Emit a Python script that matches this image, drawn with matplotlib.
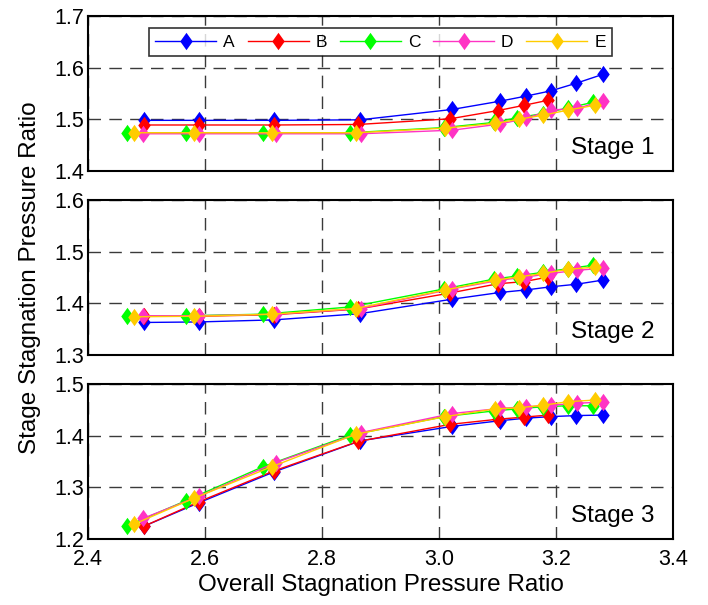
import matplotlib
matplotlib.use("Agg")
import matplotlib.pyplot as plt
from matplotlib.ticker import FixedLocator, FormatStrFormatter

plt.rcParams['font.family'] = ['Liberation Sans', 'DejaVu Sans']

# Series labels and colours
series = ["A", "B", "C", "D", "E"]
colors = ["#0000ff", "#ff0000", "#00ff00", "#ff33c4", "#ffcc00"]

# Overall stagnation pressure ratio for each series
x_A = [2.496, 2.589, 2.718, 2.865, 3.022, 3.104, 3.149, 3.191, 3.235, 3.280]
x_B = [2.496, 2.589, 2.718, 2.862, 3.019, 3.101, 3.145, 3.187]
x_C = [2.466, 2.567, 2.699, 2.848, 3.009, 3.094, 3.134, 3.177, 3.220, 3.264]
x_D = [2.494, 2.590, 2.721, 2.866, 3.023, 3.105, 3.149, 3.192, 3.236, 3.281]
x_E = [2.479, 2.581, 2.714, 2.858, 3.011, 3.096, 3.136, 3.178, 3.221, 3.266]

# Stage 1 stagnation pressure ratio
s1_A = [1.498, 1.498, 1.498, 1.499, 1.519, 1.535, 1.545, 1.555, 1.570, 1.587]
s1_B = [1.489, 1.489, 1.489, 1.490, 1.501, 1.517, 1.527, 1.537]
s1_C = [1.474, 1.474, 1.474, 1.474, 1.484, 1.494, 1.503, 1.511, 1.522, 1.533]
s1_D = [1.472, 1.472, 1.472, 1.472, 1.479, 1.491, 1.502, 1.518, 1.521, 1.536]
s1_E = [1.474, 1.474, 1.474, 1.474, 1.483, 1.492, 1.500, 1.508, 1.518, 1.527]

# Stage 2 stagnation pressure ratio
s2_A = [1.363, 1.364, 1.368, 1.380, 1.408, 1.421, 1.426, 1.432, 1.437, 1.445]
s2_B = [1.375, 1.375, 1.378, 1.389, 1.420, 1.438, 1.442, 1.451]
s2_C = [1.375, 1.376, 1.379, 1.393, 1.428, 1.447, 1.453, 1.460, 1.467, 1.474]
s2_D = [1.376, 1.376, 1.379, 1.390, 1.428, 1.445, 1.451, 1.458, 1.464, 1.468]
s2_E = [1.374, 1.375, 1.379, 1.390, 1.426, 1.445, 1.451, 1.458, 1.466, 1.470]

# Stage 3 stagnation pressure ratio
s3_A = [1.225, 1.270, 1.330, 1.390, 1.418, 1.429, 1.434, 1.437, 1.439, 1.440]
s3_B = [1.225, 1.272, 1.332, 1.389, 1.422, 1.432, 1.436, 1.440]
s3_C = [1.225, 1.274, 1.340, 1.401, 1.437, 1.448, 1.452, 1.456, 1.458, 1.458]
s3_D = [1.240, 1.283, 1.348, 1.406, 1.443, 1.453, 1.456, 1.459, 1.463, 1.465]
s3_E = [1.229, 1.279, 1.340, 1.403, 1.437, 1.452, 1.454, 1.459, 1.466, 1.469]

x_data = [x_A, x_B, x_C, x_D, x_E]
stages = [
    ("Stage 1", [s1_A, s1_B, s1_C, s1_D, s1_E], [1.4, 1.5, 1.6, 1.7]),
    ("Stage 2", [s2_A, s2_B, s2_C, s2_D, s2_E], [1.3, 1.4, 1.5, 1.6]),
    ("Stage 3", [s3_A, s3_B, s3_C, s3_D, s3_E], [1.2, 1.3, 1.4, 1.5]),
]
x_ticks = [2.4, 2.6, 2.8, 3.0, 3.2, 3.4]

# tall diamond marker
diamond = [(0, 1), (0.72, 0), (0, -1), (-0.72, 0), (0, 1)]

fig = plt.figure(figsize=(7.08, 6.05), dpi=100)
left, width, height = 0.1243, 0.8263, 0.2562
bottoms = [0.7174, 0.4132, 0.1090]

axes = []
for (label, ys, yt), b in zip(stages, bottoms):
    ax = fig.add_axes([left, b, width, height])
    axes.append(ax)
    for name, c, xs, yv in zip(series, colors, x_data, ys):
        ax.plot(xs, yv, color=c, lw=1.0, marker=diamond, markersize=12.5,
                markerfacecolor=c, markeredgecolor=c, markeredgewidth=0,
                label=name, zorder=3)
    ax.set_xlim(x_ticks[0], x_ticks[-1])
    ax.set_ylim(yt[0], yt[-1])
    ax.xaxis.set_major_locator(FixedLocator(x_ticks))
    ax.yaxis.set_major_locator(FixedLocator(yt))
    ax.yaxis.set_major_formatter(FormatStrFormatter('%.1f'))
    ax.xaxis.set_major_formatter(FormatStrFormatter('%.1f'))
    ax.grid(True, color='#3a3a3a', lw=1.0, linestyle=(0, (9, 6)), zorder=1)
    ax.tick_params(direction='in', length=0, labelsize=15.5)
    ax.tick_params(axis='y', pad=3)
    ax.tick_params(axis='x', pad=7)
    for sp in ax.spines.values():
        sp.set_linewidth(1.5)
        sp.set_zorder(5)
    ax.text(0.968, 0.15, label, transform=ax.transAxes, ha='right',
            va='center', fontsize=17.5, zorder=6)
    if b != bottoms[-1]:
        ax.tick_params(labelbottom=False)

axes[-1].set_xlabel("Overall Stagnation Pressure Ratio", fontsize=17.5, labelpad=3)
fig.text(0.042, 0.5 * (bottoms[-1] + bottoms[0] + height),
         "Stage Stagnation Pressure Ratio", rotation=90, ha='center',
         va='center', fontsize=17.5)

leg = axes[0].legend(loc='upper center', bbox_to_anchor=(0.5, 0.92), ncol=5,
                     fontsize=12.5, frameon=True, fancybox=False,
                     handlelength=3.5, handletextpad=0.4, columnspacing=0.75,
                     borderpad=0.35, borderaxespad=0)
leg.get_frame().set_edgecolor('black')
leg.get_frame().set_linewidth(1.2)
leg.set_zorder(10)

fig.savefig("out.png", dpi=100)
